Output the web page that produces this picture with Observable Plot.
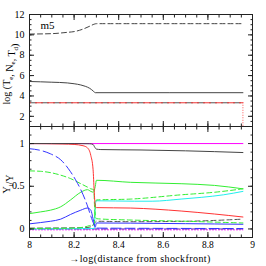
<!DOCTYPE html>
<html><head><meta charset="utf-8">
<script src="https://cdn.jsdelivr.net/npm/d3@7"></script>
<script src="https://cdn.jsdelivr.net/npm/@observablehq/plot@0.6"></script>
<style>body{margin:0;background:#fff} #chart svg{display:block;overflow:visible}</style>
</head><body><div id="chart"></div>
<script>
// ---------- top panel data ----------
const neX = [8.0, 8.1, 8.17, 8.2, 8.244, 8.27, 8.29, 8.3, 8.957];
const neY = [10.08, 10.12, 10.25, 10.32, 10.6, 10.85, 11.05, 11.1, 11.1];
const teX = [8.0, 8.1, 8.17, 8.2, 8.23, 8.25, 8.27, 8.285, 8.295, 8.957];
const teY = [5.42, 5.35, 5.28, 5.2, 5.08, 4.95, 4.75, 4.5, 4.32, 4.32];
const tdX = [8.0, 8.957];
const tdY = [3.33, 3.33];
const tdEndX = 8.957, tdEndY1 = 3.33, tdEndY2 = 1;
const modelName = "m5";

// ---------- bottom panel data ----------
const magX = [8.0, 8.957], magY = [1.0, 1.0];
const redX = [8.0, 8.15, 8.2, 8.24, 8.26, 8.275, 8.285, 8.29, 8.295, 8.3, 8.454, 8.68, 8.83, 8.957];
const redY = [1.0, 0.995, 0.99, 0.975, 0.95, 0.86, 0.7, 0.45, 0.27, 0.25, 0.245, 0.21, 0.175, 0.14];
const grayX = [8.0, 8.2, 8.27, 8.285, 8.292, 8.3, 8.32, 8.5, 8.7, 8.957];
const grayY = [1.0, 1.0, 0.998, 0.99, 0.96, 0.935, 0.93, 0.925, 0.915, 0.895];
const blueDashX = [8.0, 8.05, 8.094, 8.14, 8.184, 8.21, 8.23, 8.26, 8.275, 8.29, 8.3, 8.957];
const blueDashY = [0.94, 0.92, 0.88, 0.81, 0.67, 0.56, 0.46, 0.27, 0.15, 0.05, 0.01, 0.005];
const greenDashX = [8.0, 8.05, 8.094, 8.14, 8.184, 8.23, 8.26, 8.275, 8.288, 8.293, 8.3, 8.45, 8.7, 8.957];
const greenDashY = [0.68, 0.675, 0.66, 0.63, 0.59, 0.53, 0.49, 0.47, 0.46, 0.2, 0.12, 0.105, 0.09, 0.07];
const green2DashX = [8.0, 8.2, 8.27, 8.29, 8.296, 8.3, 8.454, 8.68, 8.83, 8.957];
const green2DashY = [0.005, 0.01, 0.04, 0.06, 0.3, 0.34, 0.35, 0.4, 0.43, 0.47];
const greenX = [8.0, 8.05, 8.094, 8.14, 8.184, 8.23, 8.26, 8.275, 8.287, 8.295, 8.3, 8.454, 8.68, 8.83, 8.957];
const greenY = [0.18, 0.2, 0.22, 0.26, 0.34, 0.43, 0.46, 0.44, 0.43, 0.5, 0.57, 0.546, 0.53, 0.51, 0.47];
const blueX = [8.0, 8.05, 8.094, 8.14, 8.184, 8.23, 8.26, 8.275, 8.285, 8.295, 8.3, 8.454, 8.7, 8.957];
const blueY = [0.06, 0.075, 0.09, 0.115, 0.17, 0.22, 0.245, 0.22, 0.12, 0.02, 0.07, 0.068, 0.062, 0.055];
const cyanX = [8.0, 8.29, 8.296, 8.3, 8.47, 8.55, 8.68, 8.77, 8.87, 8.957];
const cyanY = [0.0, 0.005, 0.3, 0.33, 0.325, 0.325, 0.35, 0.37, 0.4, 0.44];
const grayDashX = [8.0, 8.25, 8.28, 8.295, 8.3, 8.45, 8.7, 8.957];
const grayDashY = [0.01, 0.015, 0.03, 0.08, 0.09, 0.085, 0.09, 0.115];
const purpleDashX = [8.0, 8.957], purpleDashY = [0.0, 0.0];
const magDotX = [8.0, 8.957], magDotY = [-0.01, -0.01];

// ---------- ticks & labels ----------
const xMajor = [8, 8.2, 8.4, 8.6, 8.8, 9];
const xMinor = d3.range(0, 21).map(i => 8 + i * 0.05);
const topYMajor = [2, 4, 6, 8, 10, 12];
const topYMinor = d3.range(0, 23).map(i => 1 + i * 0.5);
const botYMajor = [0, 0.5, 1];
const botYMinor = d3.range(-1, 13).map(i => i * 0.1);
const xLabel = "\u2192log(distance from shockfront)";

const pts = (xs, ys) => xs.map((x, i) => ({x, y: ys[i]}));
const fmt = d => String(+(+d).toFixed(1));
const blank = () => "";
const FONT = "Liberation Serif";
const INK = "#222";

function axes(yMajor, yMinor, showX) {
  const m = [
    Plot.axisX(xMinor, {anchor: "bottom", tickSize: -2.5, tickFormat: blank, label: null, stroke: INK}),
    Plot.axisX(xMajor, {anchor: "top", tickSize: -5, tickFormat: blank, label: null, stroke: INK}),
    Plot.axisX(xMinor, {anchor: "top", tickSize: -2.5, tickFormat: blank, label: null, stroke: INK}),
    Plot.axisY(yMajor, {anchor: "left", tickSize: -5, tickPadding: 10, tickFormat: fmt, label: null, stroke: INK, fill: "#000"}),
    Plot.axisY(yMinor, {anchor: "left", tickSize: -2.5, tickFormat: blank, label: null, stroke: INK}),
    Plot.axisY(yMajor, {anchor: "right", tickSize: -5, tickFormat: blank, label: null, stroke: INK}),
    Plot.axisY(yMinor, {anchor: "right", tickSize: -2.5, tickFormat: blank, label: null, stroke: INK}),
    Plot.frame({stroke: INK})
  ];
  m.push(Plot.axisX(xMajor, {anchor: "bottom", tickSize: -5, tickPadding: 9, fontSize: 9.5, tickFormat: showX ? fmt : blank, label: null, stroke: INK, fill: "#000"}));
  return m;
}

const lineOpts = (stroke, dash) => ({x: "x", y: "y", stroke, strokeWidth: 1, strokeDasharray: dash, curve: "monotone-x"});

const topPlot = Plot.plot({
  width: 266, height: 126, marginTop: 14, marginBottom: 0, marginLeft: 29, marginRight: 14,
  style: {fontFamily: FONT, fontSize: "10px", background: "white", color: "#000"},
  x: {domain: [8, 9]},
  y: {domain: [1, 12]},
  marks: [
    Plot.line(pts(tdX, tdY), lineOpts("#555", "7,5")),
    Plot.line(pts(tdX, tdY), {...lineOpts("#e33", "7,5"), strokeDashoffset: 6}),
    Plot.ruleX([tdEndX], {y1: tdEndY1, y2: tdEndY2, stroke: "#f55", strokeWidth: 1, strokeDasharray: "1,1.5"}),
    Plot.line(pts(teX, teY), lineOpts("#444")),
    Plot.line(pts(neX, neY), lineOpts("#444", "5,3")),
    Plot.text([modelName], {frameAnchor: "top-left", dx: 11, dy: 7, text: d => d, fontSize: 11, fill: "#000"}),
    ...axes(topYMajor, topYMinor, false)
  ]
});

const botPlot = Plot.plot({
  width: 266, height: 140, marginTop: 0, marginBottom: 29, marginLeft: 29, marginRight: 14,
  style: {fontFamily: FONT, fontSize: "10px", background: "white", color: "#000"},
  x: {domain: [8, 9]},
  y: {domain: [-0.1, 1.2]},
  marks: [
    Plot.line(pts(magDotX, magDotY), lineOpts("magenta", "1,2")),
    Plot.line(pts(purpleDashX, purpleDashY), lineOpts("#5a2fb0", "6,3")),
    Plot.line(pts(grayDashX, grayDashY), lineOpts("#555", "5,3")),
    Plot.line(pts(cyanX, cyanY), lineOpts("#2ee")),
    Plot.line(pts(blueX, blueY), lineOpts("#33f")),
    Plot.line(pts(greenX, greenY), lineOpts("#3e3")),
    Plot.line(pts(green2DashX, green2DashY), lineOpts("#3e3", "5,3")),
    Plot.line(pts(greenDashX, greenDashY), lineOpts("#3e3", "5,3")),
    Plot.line(pts(blueDashX, blueDashY), lineOpts("#33f", "10,4")),
    Plot.line(pts(magX, magY), lineOpts("magenta")),
    Plot.line(pts(redX, redY), lineOpts("#f33")),
    Plot.line(pts(grayX, grayY), lineOpts("#444")),
    ...axes(botYMajor, botYMinor, true)
  ]
});

const chart = document.getElementById("chart");
chart.append(topPlot, botPlot);

// axis titles with subscripts
function sub(t, s) {
  t.append("tspan").attr("dy", 2.5).attr("font-size", "7px").text(s);
  t.append("tspan").attr("dy", -2.5).text("");
}
{
  const svg = d3.select(topPlot);
  const t = svg.append("text").attr("transform", "translate(10,74) rotate(-90)")
    .attr("text-anchor", "middle").attr("font-family", FONT).attr("font-size", "10px").attr("fill", "#000");
  t.append("tspan").text("log (T"); sub(t, "e");
  t.append("tspan").text(", N"); sub(t, "e");
  t.append("tspan").text(", T"); sub(t, "d");
  t.append("tspan").text(")");
}
{
  const svg = d3.select(botPlot);
  const t = svg.append("text").attr("transform", "translate(10,58) rotate(-90)")
    .attr("text-anchor", "middle").attr("font-family", FONT).attr("font-size", "10px").attr("fill", "#000");
  t.append("tspan").text("Y"); sub(t, "i");
  t.append("tspan").text("/Y");
  svg.append("text").attr("x", 140).attr("y", 135.5).attr("text-anchor", "middle")
    .attr("font-family", FONT).attr("font-size", "10px").attr("letter-spacing", "0.4px").attr("fill", "#000")
    .text(xLabel);
}
</script>
</body></html>
